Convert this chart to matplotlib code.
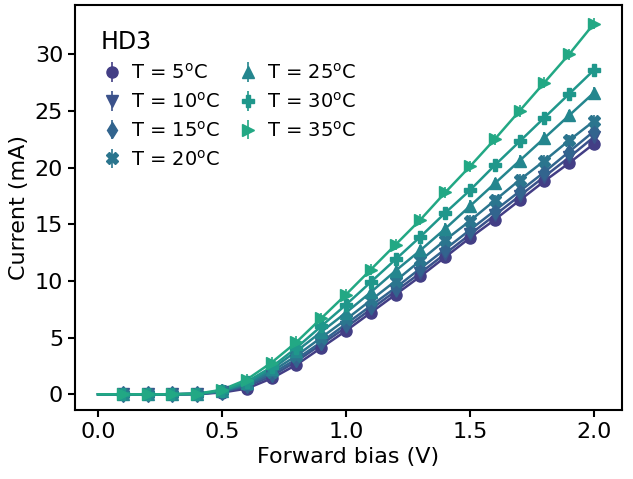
import numpy as np
import matplotlib
matplotlib.use("Agg")
import matplotlib.pyplot as plt

# forward bias (V); markers start at 0.1, the line starts at 0.0
bias = [0.0, 0.1, 0.2, 0.3, 0.4, 0.5, 0.6, 0.7, 0.8, 0.9, 1.0,
        1.1, 1.2, 1.3, 1.4, 1.5, 1.6, 1.7, 1.8, 1.9, 2.0]

temps = [5, 10, 15, 20, 25, 30, 35]

# current (mA) per temperature
i_5 = [0, 0, 0, 0, 0.02, 0.15, 0.5, 1.4, 2.6, 4.1, 5.6,
       7.2, 8.8, 10.4, 12.1, 13.8, 15.4, 17.1, 18.8, 20.4, 22.1]
i_10 = [0, 0, 0, 0, 0.02, 0.2, 0.7, 1.6, 2.9, 4.4, 5.9,
        7.5, 9.1, 10.7, 12.4, 14.1, 15.8, 17.5, 19.2, 20.9, 22.7]
i_15 = [0, 0, 0, 0, 0.03, 0.22, 0.8, 1.8, 3.1, 4.6, 6.2,
        7.8, 9.4, 11.1, 12.8, 14.5, 16.2, 17.9, 19.6, 21.4, 23.2]
i_20 = [0, 0, 0, 0, 0.03, 0.25, 0.9, 2.0, 3.4, 5.0, 6.6,
        8.3, 10.0, 11.8, 13.6, 15.3, 17.1, 18.9, 20.6, 22.4, 24.1]
i_25 = [0, 0, 0, 0, 0.04, 0.3, 1.0, 2.2, 3.8, 5.5, 7.2,
        9.0, 10.9, 12.7, 14.6, 16.6, 18.6, 20.6, 22.6, 24.6, 26.6]
i_30 = [0, 0, 0, 0, 0.05, 0.3, 1.1, 2.4, 4.1, 6.0, 7.9,
        9.9, 11.9, 13.9, 16.0, 18.0, 20.2, 22.3, 24.4, 26.5, 28.6]
i_35 = [0, 0, 0, 0, 0.05, 0.4, 1.3, 2.8, 4.6, 6.7, 8.8,
        11.0, 13.2, 15.4, 17.8, 20.1, 22.5, 25.0, 27.5, 30.0, 32.7]
currents = [i_5, i_10, i_15, i_20, i_25, i_30, i_35]
current_err = 0.5

markers = ["o", "v", "d", "X", "^", "P", ">"]
colors = plt.cm.viridis(np.linspace(0.18, 0.6, len(temps)))

fig, ax = plt.subplots(figsize=(6.33, 4.79), dpi=100)
fig.subplots_adjust(left=0.1185, right=0.9826, top=0.9896, bottom=0.144)

for t, cur, m, c in zip(temps, currents, markers, colors):
    ax.plot(bias, cur, color=c, lw=1.8)
    ax.errorbar(bias[1:], cur[1:], yerr=current_err, fmt=m, color=c,
                ms=8, elinewidth=1.2, capsize=0, label=f"T = {t}$^{{\\rm o}}$C")

ax.set_xlim(-0.093, 2.113)
ax.set_ylim(-1.39, 34.34)
ax.set_xticks([0.0, 0.5, 1.0, 1.5, 2.0])
ax.set_yticks([0, 5, 10, 15, 20, 25, 30])
ax.tick_params(labelsize=16, width=1.5, length=5)
for s in ax.spines.values():
    s.set_linewidth(1.5)

ax.set_xlabel("Forward bias (V)", fontsize=16)
ax.set_ylabel("Current (mA)", fontsize=16)

leg = ax.legend(title="HD3", ncol=2, frameon=False, loc="upper left",
                fontsize=14, title_fontsize=17, alignment="left",
                borderaxespad=0.9, handletextpad=0.4, columnspacing=0.8,
                handlelength=1.2, labelspacing=0.45)

plt.savefig("out.png")
